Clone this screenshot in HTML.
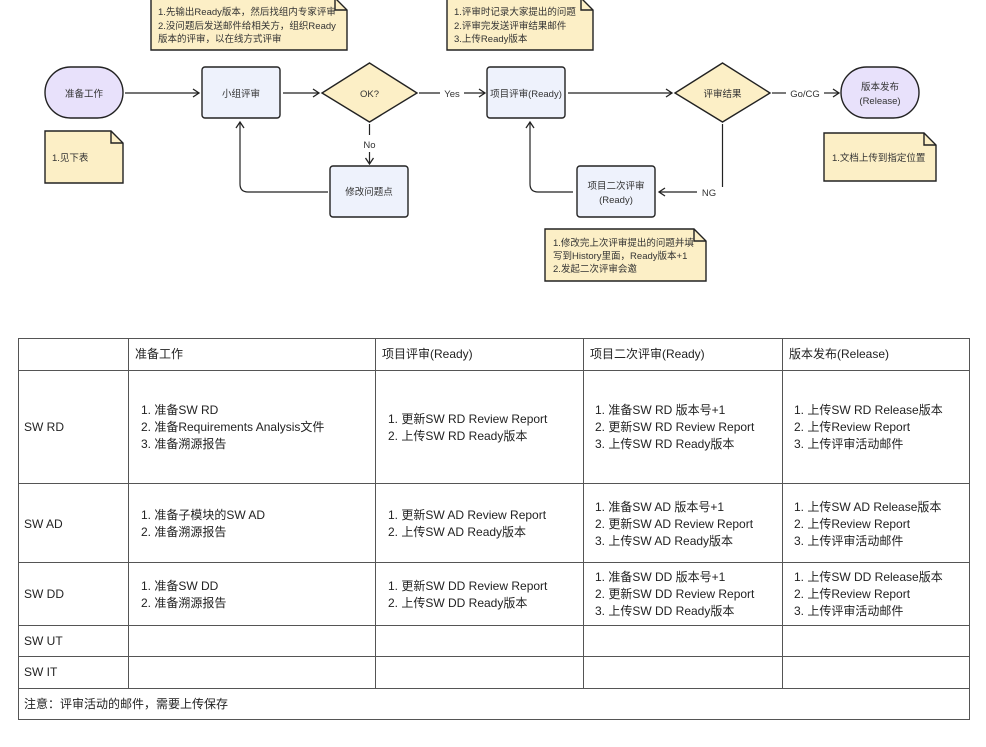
<!DOCTYPE html>
<html><head><meta charset="utf-8"><style>
html,body{margin:0;padding:0;background:#fff;}
svg{display:block;font-family:"Liberation Sans","Noto Sans CJK SC",sans-serif;}
.d{font-size:9.5px;fill:#333;}
.t{font-size:12px;fill:#222;}
</style></head><body>
<svg width="986" height="747" viewBox="0 0 986 747" xmlns="http://www.w3.org/2000/svg">
<defs>
<marker id="a" markerWidth="10" markerHeight="10" refX="8" refY="5" orient="auto" markerUnits="userSpaceOnUse">
<path d="M2,1 L8,5 L2,9" fill="none" stroke="#222" stroke-width="1.3"/>
</marker>
</defs>
<g stroke="#222" stroke-width="1.4">
<!-- notes -->
<path d="M151,-2 H335 L347,10 V50 H151 Z" fill="#fcefc6"/>
<path d="M335,-2 V10 H347" fill="none"/>
<path d="M447,-2 H581 L593,10 V50 H447 Z" fill="#fcefc6"/>
<path d="M581,-2 V10 H593" fill="none"/>
<path d="M45,131 H111 L123,143 V183 H45 Z" fill="#fcefc6"/>
<path d="M111,131 V143 H123" fill="none"/>
<path d="M824,133 H924 L936,145 V181 H824 Z" fill="#fcefc6"/>
<path d="M924,133 V145 H936" fill="none"/>
<path d="M545,229 H694 L706,241 V281 H545 Z" fill="#fcefc6"/>
<path d="M694,229 V241 H706" fill="none"/>
<!-- shapes -->
<rect x="45" y="67" width="78" height="51" rx="25.5" fill="#e8e1fb"/>
<rect x="841" y="67" width="78" height="51" rx="25.5" fill="#e8e1fb"/>
<rect x="202" y="67" width="78" height="51" rx="3" fill="#eef2fc"/>
<rect x="487" y="67" width="78" height="51" rx="3" fill="#eef2fc"/>
<rect x="330" y="166" width="78" height="51" rx="3" fill="#eef2fc"/>
<rect x="577" y="166" width="78" height="51" rx="3" fill="#eef2fc"/>
<path d="M369.5,63 L417,93 L369.5,122 L322,93 Z" fill="#fcefc6"/>
<path d="M722.5,63 L770,93 L722.5,122 L675,93 Z" fill="#fcefc6"/>
</g>
<g stroke="#222" stroke-width="1.2" fill="none">
<line x1="125" y1="93" x2="199" y2="93" marker-end="url(#a)"/>
<line x1="283" y1="93" x2="319" y2="93" marker-end="url(#a)"/>
<line x1="419" y1="93" x2="440" y2="93"/>
<line x1="464" y1="93" x2="485" y2="93" marker-end="url(#a)"/>
<line x1="369.5" y1="124" x2="369.5" y2="135"/>
<line x1="369.5" y1="152" x2="369.5" y2="164" marker-end="url(#a)"/>
<path d="M328,192 H248 Q240,192 240,184 V122" marker-end="url(#a)"/>
<line x1="568" y1="93" x2="672" y2="93" marker-end="url(#a)"/>
<line x1="772" y1="93" x2="786" y2="93"/>
<line x1="824" y1="93" x2="839" y2="93" marker-end="url(#a)"/>
<path d="M722.5,124 V187"/>
<line x1="697" y1="192" x2="659" y2="192" marker-end="url(#a)"/>
<path d="M573,192 H538 Q530,192 530,184 V122" marker-end="url(#a)"/>
</g>
<g class="d">
<text x="158" y="15">1.先输出Ready版本，然后找组内专家评审</text>
<text x="158" y="29">2.没问题后发送邮件给相关方，组织Ready</text>
<text x="158" y="42">版本的评审，以在线方式评审</text>
<text x="454" y="15">1.评审时记录大家提出的问题</text>
<text x="454" y="29">2.评审完发送评审结果邮件</text>
<text x="454" y="42">3.上传Ready版本</text>
<text x="52" y="161">1.见下表</text>
<text x="832" y="161">1.文档上传到指定位置</text>
<text x="553" y="246">1.修改完上次评审提出的问题并填</text>
<text x="553" y="259">写到History里面，Ready版本+1</text>
<text x="553" y="272">2.发起二次评审会邀</text>
<g text-anchor="middle">
<text x="84" y="97">准备工作</text>
<text x="241" y="97">小组评审</text>
<text x="369.5" y="97">OK?</text>
<text x="452" y="97">Yes</text>
<text x="369.5" y="148">No</text>
<text x="369" y="195">修改问题点</text>
<text x="526" y="97">项目评审(Ready)</text>
<text x="722.5" y="97">评审结果</text>
<text x="805" y="97">Go/CG</text>
<text x="880" y="90">版本发布</text>
<text x="880" y="104">(Release)</text>
<text x="709" y="196">NG</text>
<text x="616" y="189">项目二次评审</text>
<text x="616" y="203">(Ready)</text>
</g>
</g>
<!-- table -->
<g stroke="#555" stroke-width="1" fill="none">
<rect x="18.5" y="338.5" width="951" height="381"/>
<line x1="18" y1="370.5" x2="970" y2="370.5"/>
<line x1="18" y1="483.5" x2="970" y2="483.5"/>
<line x1="18" y1="562.5" x2="970" y2="562.5"/>
<line x1="18" y1="625.5" x2="970" y2="625.5"/>
<line x1="18" y1="656.5" x2="970" y2="656.5"/>
<line x1="18" y1="688.5" x2="970" y2="688.5"/>
<line x1="128.5" y1="338" x2="128.5" y2="688"/>
<line x1="375.5" y1="338" x2="375.5" y2="688"/>
<line x1="583.5" y1="338" x2="583.5" y2="688"/>
<line x1="782.5" y1="338" x2="782.5" y2="688"/>
</g>
<g class="t">
<text x="135" y="358">准备工作</text>
<text x="382" y="358">项目评审(Ready)</text>
<text x="590" y="358">项目二次评审(Ready)</text>
<text x="789" y="358">版本发布(Release)</text>
<text x="24" y="431">SW RD</text>
<text x="141" y="414">1. 准备SW RD</text>
<text x="141" y="431">2. 准备Requirements Analysis文件</text>
<text x="141" y="448">3. 准备溯源报告</text>
<text x="388" y="423">1. 更新SW RD Review Report</text>
<text x="388" y="440">2. 上传SW RD Ready版本</text>
<text x="595" y="414">1. 准备SW RD 版本号+1</text>
<text x="595" y="431">2. 更新SW RD Review Report</text>
<text x="595" y="448">3. 上传SW RD Ready版本</text>
<text x="794" y="414">1. 上传SW RD Release版本</text>
<text x="794" y="431">2. 上传Review Report</text>
<text x="794" y="448">3. 上传评审活动邮件</text>
<text x="24" y="528">SW AD</text>
<text x="141" y="519">1. 准备子模块的SW AD</text>
<text x="141" y="536">2. 准备溯源报告</text>
<text x="388" y="519">1. 更新SW AD Review Report</text>
<text x="388" y="536">2. 上传SW AD Ready版本</text>
<text x="595" y="511">1. 准备SW AD 版本号+1</text>
<text x="595" y="528">2. 更新SW AD Review Report</text>
<text x="595" y="545">3. 上传SW AD Ready版本</text>
<text x="794" y="511">1. 上传SW AD Release版本</text>
<text x="794" y="528">2. 上传Review Report</text>
<text x="794" y="545">3. 上传评审活动邮件</text>
<text x="24" y="598">SW DD</text>
<text x="141" y="590">1. 准备SW DD</text>
<text x="141" y="607">2. 准备溯源报告</text>
<text x="388" y="590">1. 更新SW DD Review Report</text>
<text x="388" y="607">2. 上传SW DD Ready版本</text>
<text x="595" y="581">1. 准备SW DD 版本号+1</text>
<text x="595" y="598">2. 更新SW DD Review Report</text>
<text x="595" y="615">3. 上传SW DD Ready版本</text>
<text x="794" y="581">1. 上传SW DD Release版本</text>
<text x="794" y="598">2. 上传Review Report</text>
<text x="794" y="615">3. 上传评审活动邮件</text>
<text x="24" y="645">SW UT</text>
<text x="24" y="676">SW IT</text>
<text x="24" y="708">注意：评审活动的邮件，需要上传保存</text>
</g>
</svg>
</body></html>
